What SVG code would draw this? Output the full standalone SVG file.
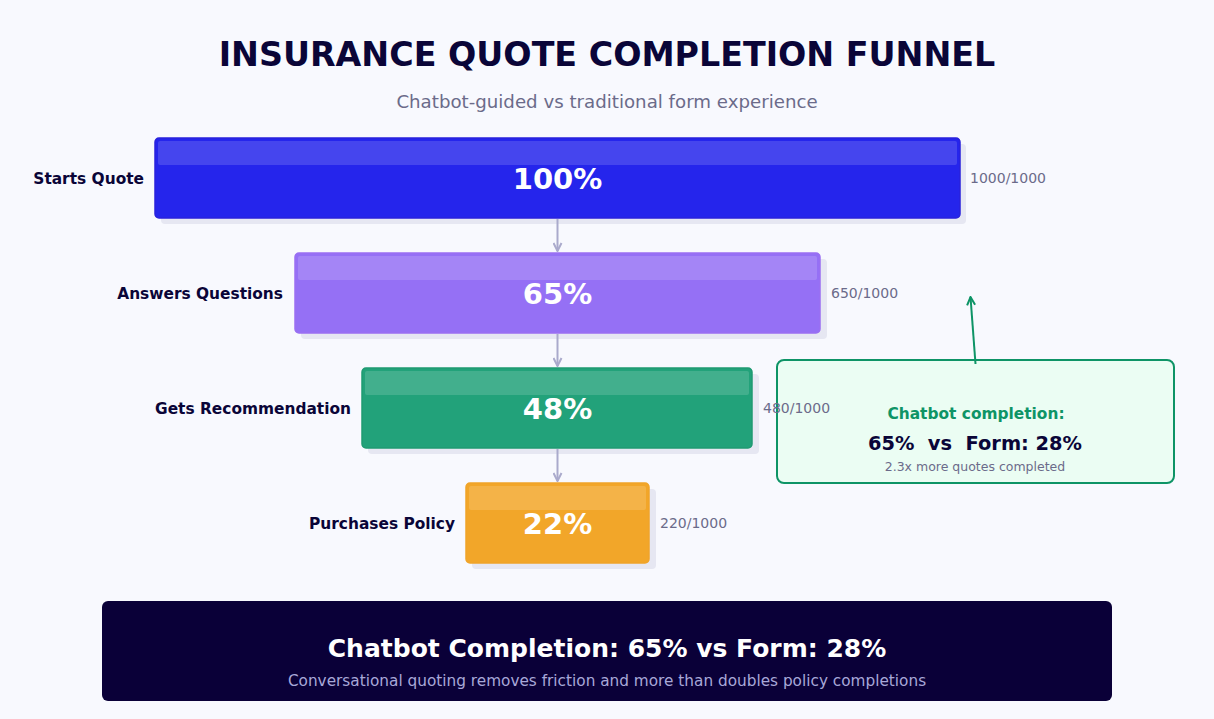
<svg xmlns="http://www.w3.org/2000/svg" width="1214" height="719" viewBox="0 0 1214 719">
<defs>
<style>
text{font-family:"DejaVu Sans","Verdana",sans-serif}
.title{font-size:33.3px;font-weight:bold;fill:#0a0538;text-anchor:middle}
.sub{font-size:18.2px;fill:#6b6b8a;text-anchor:middle}
.lbl{font-size:15.4px;font-weight:bold;fill:#0a0538;text-anchor:end}
.pct{font-size:29px;font-weight:bold;fill:#ffffff;text-anchor:middle}
.cnt{font-size:14px;fill:#6b6b8a}
.shadow{fill:#e6e7f2}
.hl{fill:#ffffff;fill-opacity:0.15}
.conn{stroke:#aaaacc;stroke-width:2;fill:none}
</style>
<marker id="ah" viewBox="0 0 10 10" refX="9" refY="5" markerWidth="5" markerHeight="5" orient="auto">
<path d="M1,1 L9,5 L1,9" fill="none" stroke="#aaaacc" stroke-width="2"/>
</marker>
<marker id="ahg" viewBox="0 0 10 10" refX="9" refY="5" markerWidth="5" markerHeight="5" orient="auto">
<path d="M1,1 L9,5 L1,9" fill="none" stroke="#0e9466" stroke-width="2"/>
</marker>
</defs>
<rect width="1214" height="719" fill="#f8f9fe"/>
<text class="title" x="607" y="66">INSURANCE QUOTE COMPLETION FUNNEL</text>
<text class="sub" x="607" y="108">Chatbot-guided vs traditional form experience</text>

<g id="callout">
<rect x="777" y="360" width="397" height="123" rx="7" fill="#ebfdf3" stroke="#0e9466" stroke-width="2"/>
<text x="976" y="419" font-size="15.4" font-weight="bold" fill="#0e9466" text-anchor="middle">Chatbot completion:</text>
<text x="975" y="450" font-size="19.4" font-weight="bold" fill="#0a0538" text-anchor="middle" xml:space="preserve">65%  vs  Form: 28%</text>
<text x="975" y="471" font-size="12.5" fill="#6b6b8a" text-anchor="middle">2.3x more quotes completed</text>
</g>

<g id="stage-starts">
<rect class="shadow" x="161" y="144" width="805" height="80" rx="4"/>
<rect x="155" y="138" width="805" height="80" rx="4" fill="#2525ec" stroke="#2a22dc" stroke-width="1.5"/>
<rect class="hl" x="158" y="141" width="799" height="24" rx="2"/>
<text class="pct" x="557.5" y="189">100%</text>
<text class="lbl" x="144" y="184">Starts Quote</text>
<text class="cnt" x="970" y="183">1000/1000</text>
</g>

<g id="stage-answers">
<rect class="shadow" x="301" y="259" width="526" height="80" rx="4"/>
<rect x="295" y="253" width="525" height="80" rx="4" fill="#9570f5" stroke="#9a6ff2" stroke-width="1.5"/>
<rect class="hl" x="298" y="256" width="519" height="24" rx="2"/>
<text class="pct" x="557.5" y="304">65%</text>
<text class="lbl" x="283" y="299">Answers Questions</text>
<text class="cnt" x="831" y="298">650/1000</text>
</g>

<g id="stage-recommend">
<rect class="shadow" x="368" y="374" width="391" height="80" rx="4"/>
<rect x="362" y="368" width="390" height="80" rx="4" fill="#22a27a" stroke="#1f9a72" stroke-width="1.5"/>
<rect class="hl" x="365" y="371" width="384" height="24" rx="2"/>
<text class="pct" x="557.5" y="419">48%</text>
<text class="lbl" x="351" y="414">Gets Recommendation</text>
<text class="cnt" x="763" y="413">480/1000</text>
</g>

<g id="stage-purchase">
<rect class="shadow" x="472" y="489" width="184" height="80" rx="4"/>
<rect x="466" y="483" width="183" height="80" rx="4" fill="#f2a629" stroke="#f0a42a" stroke-width="1.5"/>
<rect class="hl" x="469" y="486" width="177" height="24" rx="2"/>
<text class="pct" x="557.5" y="534">22%</text>
<text class="lbl" x="455" y="529">Purchases Policy</text>
<text class="cnt" x="660" y="528">220/1000</text>
</g>

<g id="connectors">
<line class="conn" x1="557.5" y1="219" x2="557.5" y2="251" marker-end="url(#ah)"/>
<line class="conn" x1="557.5" y1="334" x2="557.5" y2="366" marker-end="url(#ah)"/>
<line class="conn" x1="557.5" y1="449" x2="557.5" y2="481" marker-end="url(#ah)"/>
<line x1="975.5" y1="364" x2="970.5" y2="297" stroke="#0e9466" stroke-width="2" marker-end="url(#ahg)"/>
</g>

<g id="summary">
<rect x="102" y="601" width="1010" height="100" rx="6" fill="#0a0038"/>
<text x="607" y="657" font-size="25" font-weight="bold" fill="#ffffff" text-anchor="middle">Chatbot Completion: 65% vs Form: 28%</text>
<text x="607" y="686" font-size="15.3" fill="#a8a8d8" text-anchor="middle">Conversational quoting removes friction and more than doubles policy completions</text>
</g>
</svg>
